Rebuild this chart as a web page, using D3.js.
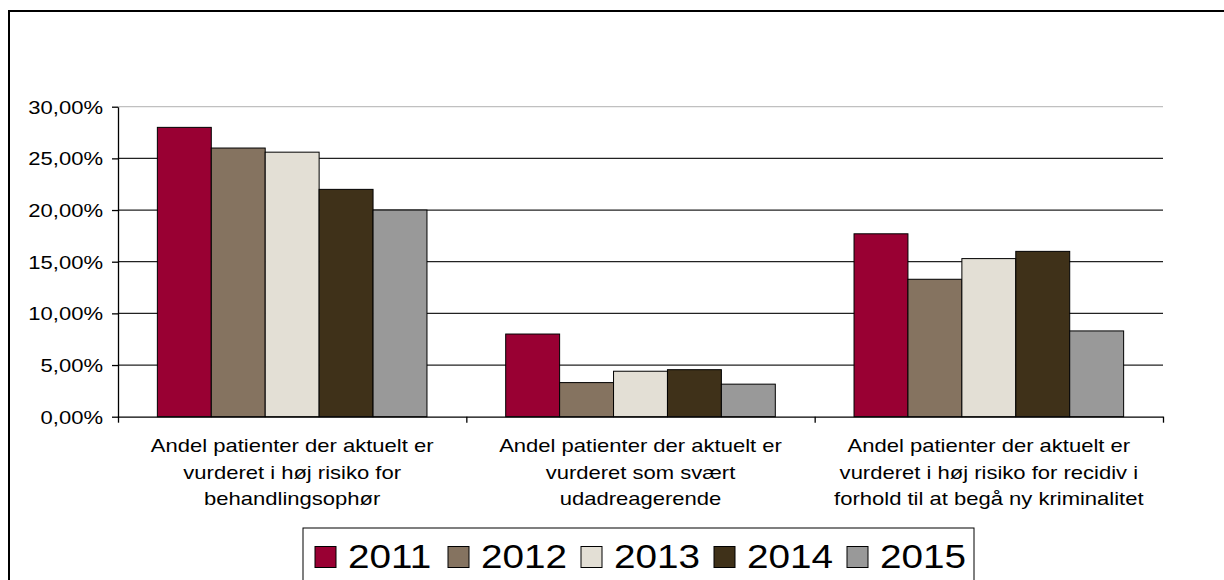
<!DOCTYPE html>
<html>
<head>
<meta charset="utf-8">
<script src="https://cdn.jsdelivr.net/npm/d3@7"></script>
<style>
  body { margin: 0; background: #fff; }
  svg { display: block; font-family: "Liberation Sans", Arial, sans-serif; }
</style>
</head>
<body>
<svg id="chart"></svg>
<script>
// data (percent)
const categories = [
  ["Andel patienter der aktuelt er", "vurderet i høj risiko for", "behandlingsophør"],
  ["Andel patienter der aktuelt er", "vurderet som svært", "udadreagerende"],
  ["Andel patienter der aktuelt er", "vurderet i høj risiko for recidiv i", "forhold til at begå ny kriminalitet"]
];
const years = ["2011", "2012", "2013", "2014", "2015"];
const v2011 = [28.0, 8.0, 17.7];
const v2012 = [26.0, 3.3, 13.3];
const v2013 = [25.6, 4.4, 15.3];
const v2014 = [22.0, 4.55, 16.0];
const v2015 = [20.0, 3.15, 8.3];
const series = [v2011, v2012, v2013, v2014, v2015];
const colors = ["#990033", "#857360", "#e3dfd5", "#3f3119", "#999999"];
const yTicks = [0, 5, 10, 15, 20, 25, 30];

const W = 1224, H = 580,
      PLOT = { left: 118, right: 1163, top: 106.7, bottom: 416.7 },
      STRETCH = 1.19;   // text in the source is stretched horizontally

const svg = d3.select('#chart')
   .attr('width', W)
   .attr('height', H);

// outer frame (runs off the right and bottom)
svg.append('rect')
   .attr('x', 9).attr('y', 11)
   .attr('width', 1300).attr('height', 700)
   .attr('fill', 'none')
   .attr('stroke', '#000')
   .attr('stroke-width', 2);

const y = d3.scaleLinear().domain([0, 30]).range([PLOT.bottom, PLOT.top]);
const x0 = d3.scaleBand().domain(d3.range(categories.length)).range([PLOT.left, PLOT.right]).padding(0);
const x1 = d3.scaleBand().domain(years).range([0, x0.bandwidth()]).paddingInner(0).paddingOuter(0.73);
const xEdge = d3.scaleLinear().domain([0, categories.length]).range([PLOT.left, PLOT.right]);

// gridlines
svg.append('g')
   .selectAll('line')
   .data(yTicks.filter(d => d > 0))
   .join('line')
   .attr('x1', PLOT.left).attr('x2', PLOT.right)
   .attr('y1', d => y(d)).attr('y2', d => y(d))
   .attr('stroke', d => d === 30 ? '#c0c0c0' : '#222')
   .attr('stroke-width', 1.3);

// bars
const groups = svg.append('g')
   .selectAll('g')
   .data(years)
   .join('g')
   .attr('fill', (d, i) => colors[i]);

groups.selectAll('rect')
   .data((yr, i) => series[i].map((v, c) => ({ yr, v, c })))
   .join('rect')
   .attr('x', d => x0(d.c) + x1(d.yr))
   .attr('y', d => y(d.v))
   .attr('width', x1.bandwidth())
   .attr('height', d => y(0) - y(d.v))
   .attr('stroke', '#000')
   .attr('stroke-width', 1);

// y axis
const yAxis = svg.append('g')
   .attr('transform', `translate(${PLOT.left},0)`)
   .call(d3.axisLeft(y).tickValues(yTicks).tickSize(6).tickSizeOuter(0)
      .tickFormat(d => d3.format('.2f')(d).replace('.', ',') + '%'));
yAxis.select('.domain').attr('stroke', '#000').attr('stroke-width', 1.3);
yAxis.selectAll('.tick line').attr('stroke', '#000').attr('stroke-width', 1.3);
yAxis.selectAll('.tick text')
   .attr('x', null).attr('dy', null)
   .attr('transform', `translate(-15,6.6) scale(${STRETCH},1)`)
   .attr('fill', '#000')
   .style('font-size', '18.5px');

// x axis
const xAxis = svg.append('g')
   .attr('transform', `translate(0,${PLOT.bottom})`)
   .call(d3.axisBottom(xEdge).tickValues(d3.range(categories.length + 1)).tickSize(6).tickSizeOuter(0).tickFormat(''));
xAxis.select('.domain').attr('stroke', '#000').attr('stroke-width', 1.3);
xAxis.selectAll('.tick line').attr('stroke', '#000').attr('stroke-width', 1.3);

// category labels
const catLabels = svg.append('g')
   .selectAll('g')
   .data(categories)
   .join('g');
catLabels.selectAll('text')
   .data((lines, c) => lines.map((t, k) => ({ t, k, c })))
   .join('text')
   .attr('transform', d => `translate(${x0(d.c) + x0.bandwidth() / 2},${452 + d.k * 26.5}) scale(${STRETCH},1)`)
   .attr('text-anchor', 'middle')
   .style('font-size', '18.5px')
   .attr('fill', '#000')
   .text(d => d.t);

// legend
const legend = svg.append('g');
legend.append('rect')
   .attr('x', 303).attr('y', 528)
   .attr('width', 671).attr('height', 100)
   .attr('fill', '#fff')
   .attr('stroke', '#000')
   .attr('stroke-width', 1);

const item = legend.selectAll('g.item')
   .data(years)
   .join('g')
   .attr('class', 'item')
   .attr('transform', (d, i) => `translate(${315 + i * 133},0)`);
item.append('rect')
   .attr('x', 0).attr('y', 546.5)
   .attr('width', 21).attr('height', 21)
   .attr('fill', (d, i) => colors[i])
   .attr('stroke', '#000')
   .attr('stroke-width', 1);
item.append('text')
   .attr('transform', `translate(33,568) scale(${STRETCH},1)`)
   .style('font-size', '32.5px')
   .attr('fill', '#000')
   .text(d => d);
</script>
</body>
</html>
